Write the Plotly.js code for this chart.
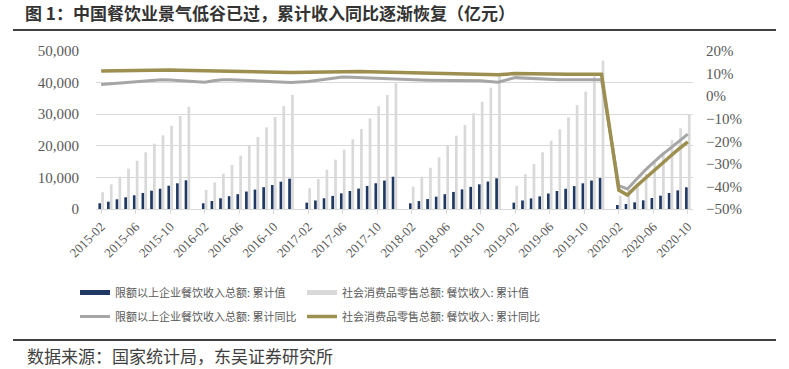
<!DOCTYPE html>
<html>
<head>
<meta charset="utf-8">
<script src="https://cdn.plot.ly/plotly-3.0.1.min.js"></script>
<style>html,body{margin:0;padding:0;background:#fff;}#chart{width:789px;height:369px;}</style>
</head>
<body>
<div id="chart"></div>
<script>
// Categories (January is merged into February in the source data, so January slots are empty)
const months = [
  "2015-02","2015-03","2015-04","2015-05","2015-06","2015-07","2015-08","2015-09","2015-10","2015-11","2015-12",
  "2016-01","2016-02","2016-03","2016-04","2016-05","2016-06","2016-07","2016-08","2016-09","2016-10","2016-11","2016-12",
  "2017-01","2017-02","2017-03","2017-04","2017-05","2017-06","2017-07","2017-08","2017-09","2017-10","2017-11","2017-12",
  "2018-01","2018-02","2018-03","2018-04","2018-05","2018-06","2018-07","2018-08","2018-09","2018-10","2018-11","2018-12",
  "2019-01","2019-02","2019-03","2019-04","2019-05","2019-06","2019-07","2019-08","2019-09","2019-10","2019-11","2019-12",
  "2020-01","2020-02","2020-03","2020-04","2020-05","2020-06","2020-07","2020-08","2020-09","2020-10"
];
const tickLabels = ["2015-02","2015-06","2015-10","2016-02","2016-06","2016-10","2017-02","2017-06","2017-10",
  "2018-02","2018-06","2018-10","2019-02","2019-06","2019-10","2020-02","2020-06","2020-10"];

// 限额以上企业餐饮收入总额:累计值 (亿元)
const aboveQuotaCum = [
  1800,2310,3070,3700,4340,5060,5790,6420,7370,8130,9080,
  null,1800,2530,3390,4050,4690,5530,6150,6900,7600,8640,9590,
  null,2000,2700,3400,4150,4950,5700,6450,7300,8150,9000,10220,
  null,1800,2500,3150,3900,4700,5400,6200,7000,7800,8700,9700,
  null,2000,2700,3350,4000,4900,5700,6400,7250,8130,9000,9800,
  null,1270,1580,2100,2740,3480,4220,5060,5900,6860
];
// 社会消费品零售总额:餐饮收入:累计值 (亿元)
const retailCateringCum = [
  5280,7800,10220,12750,15280,17930,20670,23320,26360,29430,32370,
  null,6010,8450,11170,13920,16870,19940,22780,25850,29110,32590,36080,
  null,6550,9490,12440,15600,18770,22060,25320,28700,32500,36080,39780,
  null,7060,10220,13070,16360,19940,23200,26580,30280,33960,38390,42700,
  null,7370,10980,14240,17930,21610,25210,29020,32910,37120,42000,46930,
  null,4200,6000,8200,11100,14600,18100,21800,25540,30060
];
// 限额以上企业餐饮收入总额:累计同比 (%)
const aboveQuotaYoY = [
  5.2,5.5,5.8,6.1,6.4,6.7,7.0,7.3,7.2,7.0,6.7,
  null,6.2,6.8,7.3,7.3,7.2,7.0,6.8,6.6,6.4,6.2,6.0,
  null,6.5,7.0,7.5,8.0,8.5,8.4,8.2,8.0,7.8,7.7,7.6,
  null,7.3,7.1,7.0,7.0,7.0,7.0,7.0,7.0,6.8,6.5,6.2,
  null,8.2,8.0,7.7,7.5,7.4,7.3,7.3,7.3,7.3,7.3,7.3,
  null,-39.7,-41.1,-37.0,-33.0,-29.5,-26.0,-23.0,-20.0,-16.8
];
// 社会消费品零售总额:餐饮收入:累计同比 (%)
const retailCateringYoY = [
  11.1,11.2,11.3,11.4,11.5,11.6,11.6,11.7,11.6,11.5,11.4,
  null,11.3,11.2,11.1,11.0,10.9,10.8,10.8,10.7,10.6,10.5,10.5,
  null,10.6,10.7,10.8,10.9,11.0,11.0,10.9,10.8,10.7,10.6,10.5,
  null,10.3,10.1,10.0,9.9,9.9,9.8,9.7,9.7,9.6,9.6,9.5,
  null,10.0,9.9,9.9,9.8,9.8,9.8,9.7,9.7,9.7,9.7,9.7,
  null,-41.6,-43.8,-40.0,-36.5,-33.0,-29.5,-26.5,-23.3,-20.3
];

const seriesNames = [
  "限额以上企业餐饮收入总额: 累计值",
  "社会消费品零售总额: 餐饮收入: 累计值",
  "限额以上企业餐饮收入总额: 累计同比",
  "社会消费品零售总额: 餐饮收入: 累计同比"
];
const colors = { navy: "#1f3864", light: "#d9d9d9", gray: "#a6a6a6", gold: "#9c8f4f" };

const W = 789, H = 369, L = 96, R = 96, T = 51, B = 160;
const pw = W - L - R, ph = H - T - B;
const px2x = p => (p - L) / pw;
const py2y = p => (H - B - p) / ph;

const cjk = '"Noto Sans CJK SC", "Noto Sans", sans-serif';
const serif = '"Liberation Serif", "Times New Roman", serif';

const traces = [
  { type: "bar", x: months, y: aboveQuotaCum, name: seriesNames[0], marker: { color: colors.navy }, showlegend: false, yaxis: "y" },
  { type: "bar", x: months, y: retailCateringCum, name: seriesNames[1], marker: { color: colors.light }, showlegend: false, yaxis: "y" },
  // legend entries for the bars (drawn as thick strokes like the reference)
  { type: "scatter", mode: "lines", x: [null], y: [null], name: seriesNames[0], line: { color: colors.navy, width: 5 }, legend: "legend" },
  { type: "scatter", mode: "lines", x: [null], y: [null], name: seriesNames[1], line: { color: colors.light, width: 5 }, legend: "legend2" },
  { type: "scatter", mode: "lines", x: months, y: aboveQuotaYoY, name: seriesNames[2], connectgaps: true,
    line: { color: colors.gray, width: 3 }, yaxis: "y2", legend: "legend3" },
  { type: "scatter", mode: "lines", x: months, y: retailCateringYoY, name: seriesNames[3], connectgaps: true,
    line: { color: colors.gold, width: 3.5 }, yaxis: "y2", legend: "legend4" }
];

const legendCommon = {
  orientation: "h", xanchor: "left", yanchor: "top",
  font: { family: cjk, size: 11, color: "#595959" },
  itemwidth: 30, bgcolor: "rgba(0,0,0,0)", borderwidth: 0
};
const mkLegend = (px, py) => Object.assign({}, legendCommon, { x: px2x(px), y: py2y(py) });

const layout = {
  width: W, height: H,
  margin: { l: L, r: R, t: T, b: B, pad: 0 },
  paper_bgcolor: "#ffffff", plot_bgcolor: "#ffffff",
  barmode: "group", bargap: 0.34, bargroupgap: 0.05,
  hovermode: false,
  title: {
    text: "图 1：中国餐饮业景气低谷已过，累计收入同比逐渐恢复（亿元）",
    x: 25 / W, xanchor: "left", xref: "container",
    y: 1 - 14 / H, yanchor: "middle", yref: "container",
    font: { family: cjk, size: 17, color: "#333333", weight: "bold" }
  },
  xaxis: {
    type: "category", categoryorder: "array", categoryarray: months,
    range: [-0.6, months.length - 0.4],
    tickmode: "array", tickvals: tickLabels, ticktext: tickLabels,
    tickangle: -45, tickfont: { family: serif, size: 13, color: "#595959" },
    showline: true, linecolor: "#d9d9d9", linewidth: 1,
    ticks: "outside", ticklen: 4, tickcolor: "#d9d9d9",
    showgrid: false, zeroline: false, fixedrange: true
  },
  yaxis: {
    range: [0, 50000], dtick: 10000, tickformat: ",",
    tickfont: { family: serif, size: 15, color: "#595959" },
    gridcolor: "#d9d9d9", gridwidth: 1, zeroline: false, showline: false,
    ticks: "", ticklabelstandoff: 16, fixedrange: true
  },
  yaxis2: {
    overlaying: "y", side: "right", range: [-50, 20], dtick: 10, ticksuffix: "%",
    tickfont: { family: serif, size: 15, color: "#595959" },
    showgrid: false, zeroline: false, showline: false,
    ticks: "", ticklabelstandoff: 12, fixedrange: true
  },
  legend: mkLegend(75, 278),
  legend2: mkLegend(302, 278),
  legend3: mkLegend(75, 302),
  legend4: mkLegend(302, 302),
  shapes: [
    { type: "line", xref: "paper", yref: "paper", x0: px2x(13), x1: px2x(776), y0: py2y(30), y1: py2y(30),
      line: { color: "#404040", width: 2 } },
    { type: "line", xref: "paper", yref: "paper", x0: px2x(13), x1: px2x(776), y0: py2y(340), y1: py2y(340),
      line: { color: "#404040", width: 2 } }
  ],
  annotations: [
    { text: "数据来源：国家统计局，东吴证券研究所", xref: "paper", yref: "paper",
      x: px2x(25), y: py2y(355), xanchor: "left", yanchor: "middle", showarrow: false,
      font: { family: cjk, size: 17, color: "#404040" } }
  ]
};

Plotly.newPlot("chart", traces, layout, { displayModeBar: false, staticPlot: true });
</script>
</body>
</html>
